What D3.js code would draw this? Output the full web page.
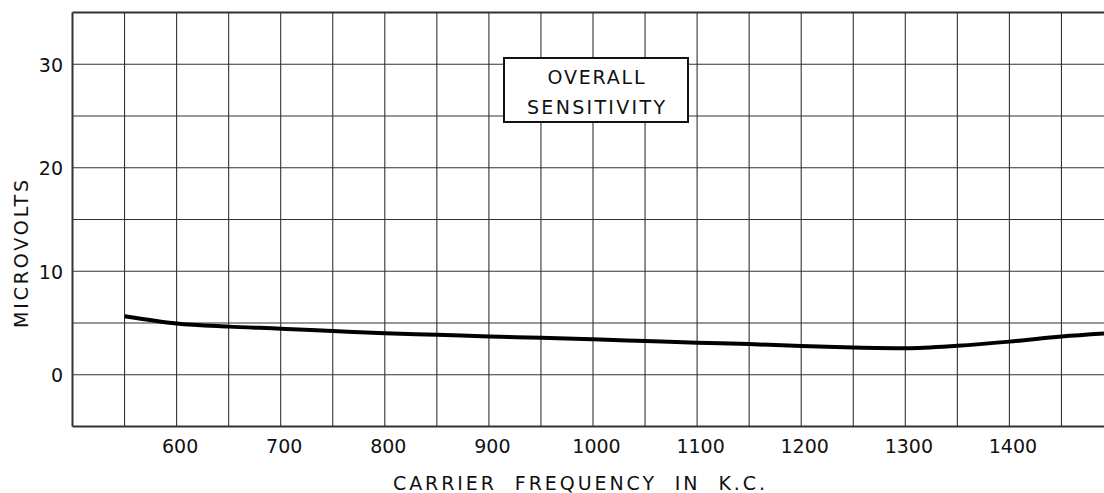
<!DOCTYPE html>
<html>
<head>
<meta charset="utf-8">
<script src="https://cdn.jsdelivr.net/npm/d3@7"></script>
<style>
  body { margin: 0; background: #fff; }
  text { font-family: "DejaVu Sans", sans-serif; fill: #111; }
</style>
</head>
<body>
<div id="chart"></div>
<script>
// data
var freqs = [550, 600, 650, 700, 750, 800, 850, 900, 950, 1000, 1050, 1100, 1150, 1200, 1250, 1300, 1350, 1400, 1450, 1500];
var microvolts = [5.65, 4.95, 4.65, 4.45, 4.22, 4.0, 3.86, 3.7, 3.57, 3.42, 3.26, 3.1, 2.96, 2.78, 2.64, 2.57, 2.8, 3.2, 3.7, 4.05];
var xTickLabels = [600, 700, 800, 900, 1000, 1100, 1200, 1300, 1400];
var yTickLabels = [0, 10, 20, 30];
var titleLines = ["OVERALL", "SENSITIVITY"];

var width = 1104, height = 493;

var svg = d3.select("#chart")
  .append("svg")
  .attr("width", width)
  .attr("height", height);

// scales - grid is 50 kc by 5 uV
var x = d3.scaleLinear().domain([500, 1500]).range([72.5, 1113.5]);
var y = d3.scaleLinear().domain([-5, 35]).range([426.5, 12.5]);

// grid lines
svg.append("g")
  .selectAll("line")
  .data(d3.range(500, 1501, 50))
  .enter()
  .append("line")
  .attr("x1", d => x(d)).attr("x2", d => x(d))
  .attr("y1", y(35)).attr("y2", y(-5))
  .attr("stroke", "#333")
  .attr("stroke-width", d => d == 500 ? 2 : 1.1);

svg.append("g")
  .selectAll("line")
  .data(d3.range(-5, 36, 5))
  .enter()
  .append("line")
  .attr("x1", x(500)).attr("x2", x(1500))
  .attr("y1", d => y(d)).attr("y2", d => y(d))
  .attr("stroke", "#333")
  .attr("stroke-width", d => (d == -5 || d == 35) ? 2 : 1.1);

// X axis labels
var xAxis = d3.axisBottom(x).tickValues(xTickLabels).tickSize(0).tickPadding(0).tickFormat(d3.format("d"));
svg.append("g")
  .attr("transform", "translate(3,0)")
  .call(xAxis)
  .call(g => g.select(".domain").remove())
  .selectAll("text")
  .attr("y", 453)
  .attr("dy", 0)
  .style("font-size", "19px")
  .style("font-family", "DejaVu Sans, sans-serif")
  .attr("fill", "#111");

// Y axis labels
var yAxis = d3.axisLeft(y).tickValues(yTickLabels).tickSize(0).tickPadding(0).tickFormat(d3.format("d"));
svg.append("g")
  .attr("transform", "translate(63,0)")
  .call(yAxis)
  .call(g => g.select(".domain").remove())
  .selectAll("text")
  .attr("dy", "0.36em")
  .style("font-size", "19px")
  .style("font-family", "DejaVu Sans, sans-serif")
  .attr("fill", "#111");

// axis titles
svg.append("text")
  .attr("x", 393)
  .attr("y", 490)
  .attr("textLength", 372)
  .attr("lengthAdjust", "spacing")
  .style("font-size", "19px")
  .style("white-space", "pre")
  .text("CARRIER  FREQUENCY  IN  K.C.");

svg.append("text")
  .attr("transform", "translate(28,328)rotate(-90)")
  .attr("textLength", 148)
  .attr("lengthAdjust", "spacing")
  .style("font-size", "19px")
  .text("MICROVOLTS");

// curve
var line = d3.line()
  .x((d, i) => x(freqs[i]))
  .y(d => y(d))
  .curve(d3.curveMonotoneX);

svg.append("path")
  .datum(microvolts)
  .attr("d", line)
  .attr("fill", "none")
  .attr("stroke", "#000")
  .attr("stroke-width", 4);

// title box
svg.append("rect")
  .attr("x", 504).attr("y", 58)
  .attr("width", 184).attr("height", 64)
  .attr("fill", "#fff")
  .attr("stroke", "#111")
  .attr("stroke-width", 2);

svg.selectAll(".title")
  .data(titleLines)
  .enter()
  .append("text")
  .attr("class", "title")
  .attr("x", 596)
  .attr("y", (d, i) => 84 + i * 30)
  .attr("text-anchor", "middle")
  .attr("textLength", (d, i) => i == 0 ? 97 : 138)
  .attr("lengthAdjust", "spacing")
  .style("font-size", "19px")
  .text(d => d);
</script>
</body>
</html>
